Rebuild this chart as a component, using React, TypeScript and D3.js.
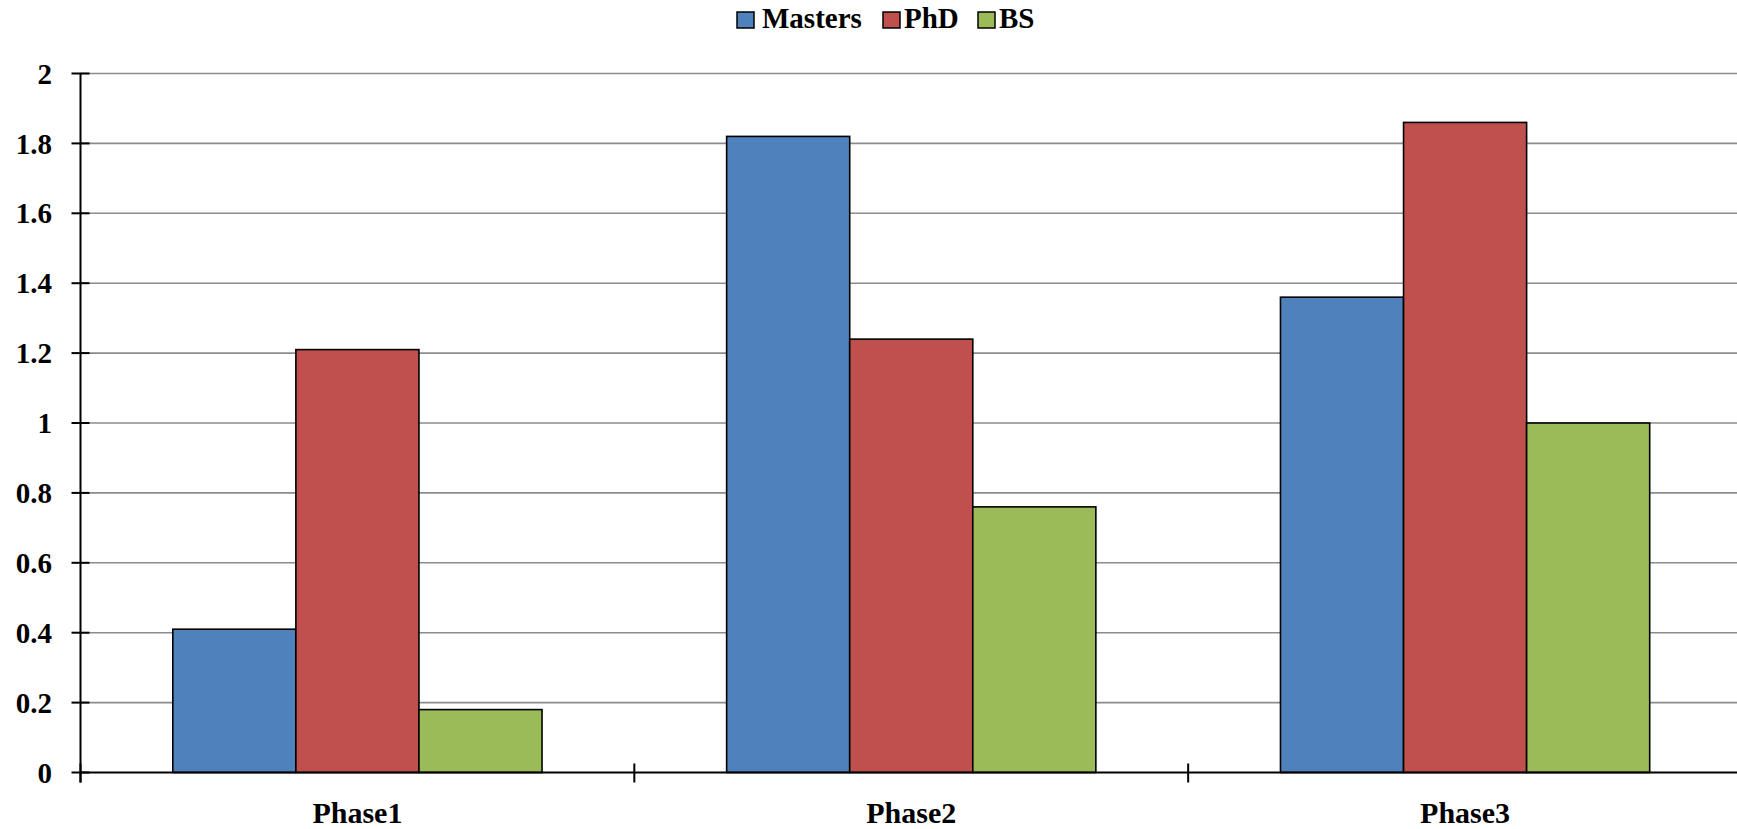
import React from "react";
import * as d3 from "d3";

const categories = ["Phase1", "Phase2", "Phase3"];
const seriesNames = ["Masters", "PhD", "BS"];
const mastersValues = [0.41, 1.82, 1.36];
const phdValues = [1.21, 1.24, 1.86];
const bsValues = [0.18, 0.76, 1.0];
const yTicks = [0, 0.2, 0.4, 0.6, 0.8, 1, 1.2, 1.4, 1.6, 1.8, 2];
const colors = ["#4F81BD", "#C0504D", "#9BBB59"];

const W = 1737;
const H = 829;
const FONT = "'Liberation Serif', 'Times New Roman', serif";

export default function App() {
  const seriesValues = [mastersValues, phdValues, bsValues];
  const left = 80.5;
  const right = 1742;
  const top = 73.5;
  const bottom = 772.5;

  const x = d3.scaleBand<string>().domain(categories).range([left, right]).padding(0);
  const bw = x.bandwidth();
  const xs = d3
    .scaleBand<string>()
    .domain(seriesNames)
    .range([bw / 6, (bw * 5) / 6])
    .padding(0);
  const y = d3.scaleLinear().domain([0, 2]).range([bottom, top]);

  const catTicks = [left, ...categories.map((c) => (x(c) as number) + bw)];

  const legendItems = [
    { sq: 737, tx: 762 },
    { sq: 883, tx: 904 },
    { sq: 978, tx: 999 },
  ];

  return (
    <svg
      width={W}
      height={H}
      style={{ position: "absolute", left: 0, top: 0, background: "#fff" }}
      fontFamily={FONT}
    >
      <rect x={0} y={0} width={W} height={H} fill="#fff" />
      {/* gridlines */}
      {yTicks.slice(1).map((t) => (
        <line key={"g" + t} x1={left} x2={right} y1={y(t)} y2={y(t)} stroke="#8c8c8c" strokeWidth={1.6} />
      ))}
      {/* bars */}
      {categories.map((c, ci) =>
        seriesNames.map((s, si) => {
          const v = seriesValues[si][ci];
          const bx = (x(c) as number) + (xs(s) as number);
          return (
            <rect
              key={c + s}
              x={bx}
              y={y(v)}
              width={xs.bandwidth()}
              height={y(0) - y(v)}
              fill={colors[si]}
              stroke="#000"
              strokeWidth={1.6}
            />
          );
        })
      )}
      {/* y axis */}
      <line x1={left} x2={left} y1={top} y2={bottom + 10} stroke="#000" strokeWidth={2} />
      {yTicks.map((t) => (
        <g key={"t" + t}>
          <line x1={left - 9} x2={left + 9} y1={y(t)} y2={y(t)} stroke="#000" strokeWidth={2} />
          <text
            x={52}
            y={y(t)}
            dy="0.35em"
            textAnchor="end"
            fontSize={29}
            fontWeight="bold"
            fill="#000"
          >
            {String(t)}
          </text>
        </g>
      ))}
      {/* x axis */}
      <line x1={left} x2={right} y1={bottom} y2={bottom} stroke="#000" strokeWidth={2} />
      {catTicks.map((tx, i) => (
        <line key={"ct" + i} x1={tx} x2={tx} y1={bottom - 9} y2={bottom + 10} stroke="#000" strokeWidth={2} />
      ))}
      {categories.map((c) => (
        <text
          key={"cl" + c}
          x={(x(c) as number) + bw / 2}
          y={823}
          textAnchor="middle"
          fontSize={30}
          fontWeight="bold"
          fill="#000"
        >
          {c}
        </text>
      ))}
      {/* legend */}
      {seriesNames.map((s, i) => (
        <g key={"lg" + s}>
          <rect
            x={legendItems[i].sq}
            y={12}
            width={17}
            height={16}
            fill={colors[i]}
            stroke="#000"
            strokeWidth={1.5}
          />
          <text x={legendItems[i].tx} y={28} fontSize={29} fontWeight="bold" fill="#000">
            {s}
          </text>
        </g>
      ))}
    </svg>
  );
}
